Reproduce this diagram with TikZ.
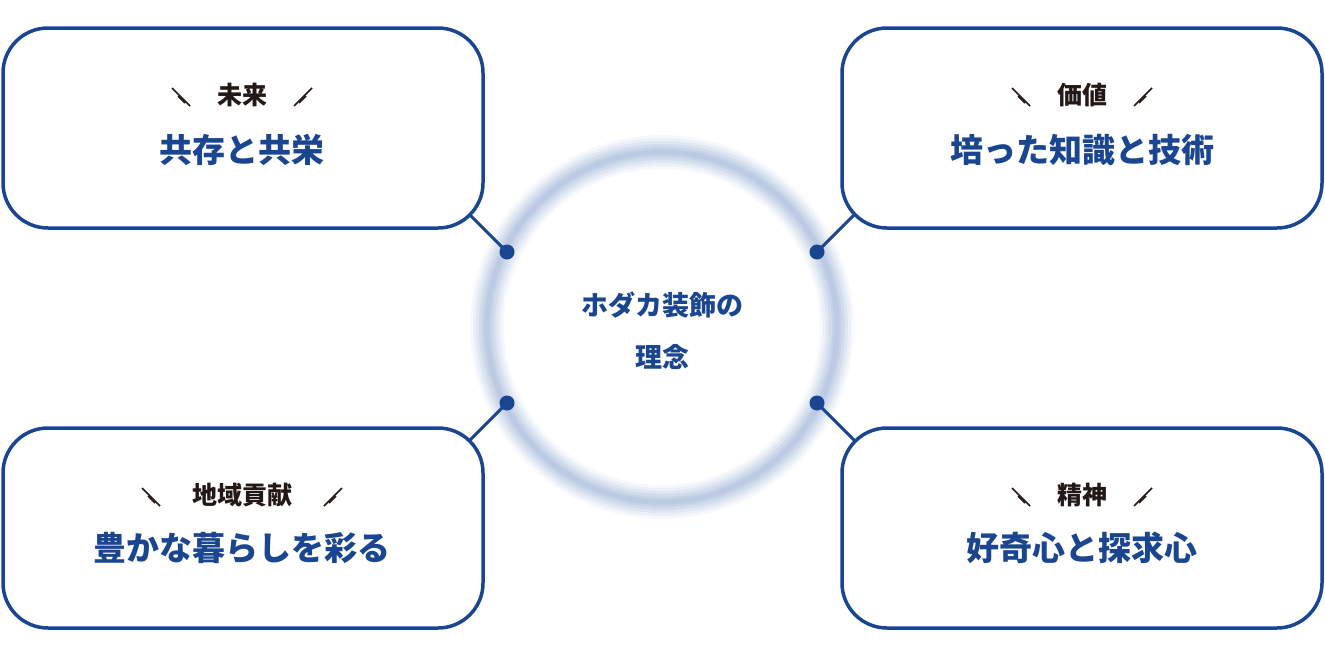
\documentclass[tikz,border=0pt]{standalone}
\usepackage{fontspec}
\newfontfamily\cjk{Noto Sans CJK JP}
\definecolor{bl}{HTML}{1A4590}
\definecolor{dk}{HTML}{231815}
\definecolor{glow}{HTML}{B8C8E2}
\tikzset{
  card/.style={draw=bl,line width=3.5pt,rounded corners=45pt,fill=white},
  lab/.style={text=dk,font=\cjk\bfseries\fontsize{25}{30}\selectfont},
  big/.style={text=bl,font=\cjk\bfseries\fontsize{33}{40}\selectfont},
  ctr/.style={text=bl,font=\cjk\bfseries\fontsize{27}{52}\selectfont,align=center},
  conn/.style={draw=bl,line width=3pt},
  dot/.style={circle,fill=bl,inner sep=0pt,minimum size=15pt},
  mk/.style={draw=dk,line width=1.6pt}
}
\newcommand\slashmarks[3]{% left x, right x, y
  \draw[mk] (#1-10,#3-9) -- (#1+8,#3+9);
  \draw[mk] (#1-4,#3-1) -- (#1+3,#3+6);
  \draw[mk] (#2-8,#3+9) -- (#2+10,#3-9);
  \draw[mk] (#2-3,#3+6) -- (#2+4,#3-1);
}
\begin{document}
\begin{tikzpicture}[x=1pt,y=-1pt]
\useasboundingbox (0,0) rectangle (1325,656);
\foreach \w/\o in {34/0.12,28/0.18,22/0.25,16/0.35,10/0.5,5/0.7}
  \draw[glow,line width=\w pt,opacity=\o] (662,327) circle (175);
\node[dot] (d1) at (507,252) {};
\node[dot] (d2) at (817,252) {};
\node[dot] (d3) at (507,403) {};
\node[dot] (d4) at (817,403) {};
\coordinate (e1) at (452,197);
\coordinate (e2) at (872,197);
\coordinate (e3) at (452,458);
\coordinate (e4) at (872,458);
\draw[conn] (d1.center) -- (e1);
\draw[conn] (d2.center) -- (e2);
\draw[conn] (d3.center) -- (e3);
\draw[conn] (d4.center) -- (e4);
\draw[card] (3,28) rectangle (483,228);
\draw[card] (842,28) rectangle (1322,228);
\draw[card] (3,428) rectangle (483,628);
\draw[card] (842,428) rectangle (1322,628);
\node[lab] (l1) at (242,95) {未来};
\node[big] (m1) at (242,150) {共存と共栄};
\slashmarks{182}{302}{97}
\node[lab] (l2) at (1082,95) {価値};
\node[big] (m2) at (1082,150) {培った知識と技術};
\slashmarks{1022}{1142}{97}
\node[lab] (l3) at (242,495) {地域貢献};
\node[big] (m3) at (242,548) {豊かな暮らしを彩る};
\slashmarks{152}{332}{497}
\node[lab] (l4) at (1082,495) {精神};
\node[big] (m4) at (1082,548) {好奇心と探求心};
\slashmarks{1022}{1142}{497}
\node[ctr] (c) at (662,331) {ホダカ装飾の\\理念};
\end{tikzpicture}
\end{document}
